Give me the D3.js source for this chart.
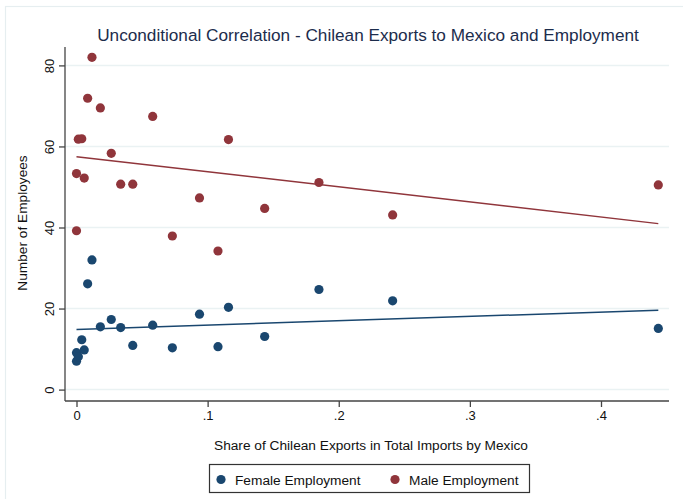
<!DOCTYPE html>
<html>
<head>
<meta charset="utf-8">
<script src="https://cdn.jsdelivr.net/npm/d3@7"></script>
<style>
  html, body { margin: 0; padding: 0; background: #fff; }
  svg { display: block; font-family: "Liberation Sans", Arial, sans-serif; }
</style>
</head>
<body>
<svg id="chart" width="683" height="499"></svg>
<script>
(function(){
    'use strict';

    // share of chilean exports in mexico's imports, one entry per industry
    var shareX = [0.000, 0.000, 0.0014, 0.0040, 0.0059, 0.0085, 0.0118, 0.0182, 0.0265, 0.0337,
                  0.0429, 0.0581, 0.0731, 0.0938, 0.1079, 0.1159, 0.1435, 0.1849, 0.2411, 0.4437];
    var femaleEmp = [9.1, 7.0, 8.1, 12.3, 9.8, 26.1, 32.0, 15.5, 17.3, 15.3,
                     10.9, 15.9, 10.3, 18.6, 10.6, 20.3, 13.1, 24.7, 21.9, 15.1];
    var maleEmp = [53.3, 39.2, 61.8, 61.9, 52.2, 71.9, 82.0, 69.5, 58.3, 50.7,
                   50.7, 67.4, 37.9, 47.3, 34.2, 61.7, 44.7, 51.1, 43.1, 50.5];

    var xTicks = [0, 0.1, 0.2, 0.3, 0.4];
    var xTickLabels = ['0', '.1', '.2', '.3', '.4'];
    var yTicks = [0, 20, 40, 60, 80];

    var series = [
        {name: 'Female Employment', values: femaleEmp, color: '#1a476f'},
        {name: 'Male Employment', values: maleEmp, color: '#90353b'}
    ];

    var plot = {left: 65, right: 669, top: 47, bottom: 401};

    var svg = d3.select('#chart');

    var x = d3.scaleLinear().domain([0, 0.4]).range([76.5, 601]);
    var y = d3.scaleLinear().domain([0, 80]).range([389.6, 65.4]);

    // outer graph region border
    svg.append('rect')
        .attr('x', 5.5).attr('y', 6.5)
        .attr('width', 720).attr('height', 520)
        .attr('fill', 'none').attr('stroke', '#e6eef0').attr('stroke-width', 1.2);

    // gridlines
    svg.append('g').selectAll('line').data(yTicks).enter().append('line')
        .attr('x1', plot.left).attr('x2', plot.right)
        .attr('y1', function(d) { return y(d); })
        .attr('y2', function(d) { return y(d); })
        .attr('stroke', '#eaf2f3').attr('stroke-width', 1.5);

    // ols fit per series, drawn over the data range
    function ols(xs, ys) {
        var mx = d3.mean(xs), my = d3.mean(ys);
        var sxy = d3.sum(xs, function(v, i) { return (v - mx) * (ys[i] - my); });
        var sxx = d3.sum(xs, function(v) { return (v - mx) * (v - mx); });
        var b = sxy / sxx;
        return {a: my - b * mx, b: b};
    }

    var xExt = d3.extent(shareX);
    var line = d3.line()
        .x(function(d) { return x(d[0]); })
        .y(function(d) { return y(d[1]); });

    series.forEach(function(s) {
        var fit = ols(shareX, s.values);
        var pts = xExt.map(function(v) { return [v, fit.a + fit.b * v]; });
        svg.append('path')
            .attr('d', line(pts))
            .attr('fill', 'none')
            .attr('stroke', s.color)
            .attr('stroke-width', 1.5);
    });

    series.forEach(function(s) {
        svg.append('g').selectAll('circle').data(s.values).enter().append('circle')
            .attr('cx', function(d, i) { return x(shareX[i]); })
            .attr('cy', function(d) { return y(d); })
            .attr('r', 4.6)
            .attr('fill', s.color);
    });

    // axes
    var axisColor = '#444';
    var xAxis = d3.axisBottom(x).tickValues(xTicks)
        .tickFormat(function(d, i) { return xTickLabels[i]; })
        .tickSize(6).tickSizeOuter(0).tickPadding(4);
    var gx = svg.append('g').attr('transform', 'translate(0,' + plot.bottom + ')').call(xAxis);
    gx.select('.domain').remove();
    gx.append('line').attr('x1', plot.left).attr('x2', plot.right)
        .attr('stroke', axisColor).attr('stroke-width', 1.3);
    gx.selectAll('.tick line').attr('stroke', axisColor).attr('stroke-width', 1.3);
    gx.selectAll('.tick text').attr('fill', '#111').style('font-size', '13px')
        .attr('font-family', '"Liberation Sans", Arial, sans-serif');

    var yAxis = d3.axisLeft(y).tickValues(yTicks)
        .tickSize(6).tickSizeOuter(0).tickPadding(4);
    var gy = svg.append('g').attr('transform', 'translate(' + plot.left + ',0)').call(yAxis);
    gy.select('.domain').remove();
    gy.append('line').attr('y1', plot.top).attr('y2', plot.bottom)
        .attr('stroke', axisColor).attr('stroke-width', 1.3);
    gy.selectAll('.tick line').attr('stroke', axisColor).attr('stroke-width', 1.3);
    gy.selectAll('.tick text')
        .attr('fill', '#111').style('font-size', '13px')
        .attr('font-family', '"Liberation Sans", Arial, sans-serif')
        .attr('x', null).attr('dy', null)
        .attr('text-anchor', 'middle')
        .attr('transform', 'translate(-16,0) rotate(-90)')
        .attr('dy', '0.35em');

    // titles
    svg.append('text')
        .attr('x', 368).attr('y', 41)
        .attr('text-anchor', 'middle')
        .attr('fill', '#1c2c4c')
        .style('font-size', '17.2px')
        .text('Unconditional Correlation - Chilean Exports to Mexico and Employment');

    svg.append('text')
        .attr('x', 371).attr('y', 450)
        .attr('text-anchor', 'middle')
        .attr('fill', '#111')
        .style('font-size', '13.7px')
        .text('Share of Chilean Exports in Total Imports by Mexico');

    svg.append('text')
        .attr('transform', 'translate(27,223) rotate(-90)')
        .attr('text-anchor', 'middle')
        .attr('fill', '#111')
        .style('font-size', '13.7px')
        .text('Number of Employees');

    // legend
    var legend = svg.append('g');
    legend.append('rect')
        .attr('x', 209.5).attr('y', 464.5).attr('width', 320).attr('height', 28)
        .attr('fill', '#fff').attr('stroke', '#333').attr('stroke-width', 1.2);
    var legX = [221, 395];
    series.forEach(function(s, i) {
        legend.append('circle').attr('cx', legX[i]).attr('cy', 479.5).attr('r', 4.6).attr('fill', s.color);
        legend.append('text').attr('x', legX[i] + 14).attr('y', 484.5)
            .attr('fill', '#111').style('font-size', '13.7px').text(s.name);
    });
})();
</script>
</body>
</html>
